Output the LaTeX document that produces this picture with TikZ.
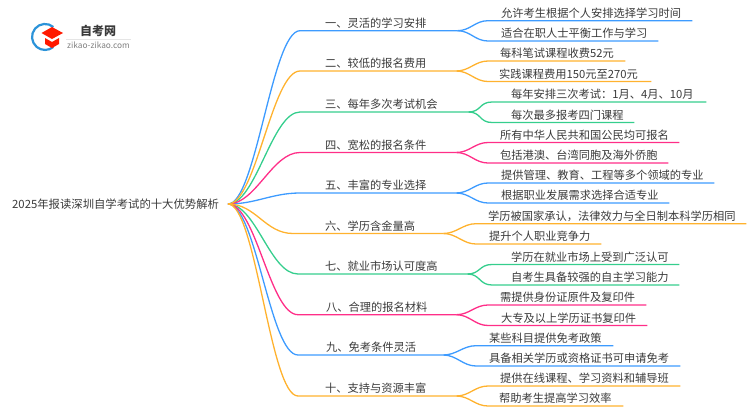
\documentclass[tikz,border=0pt]{standalone}
\usepackage{fontspec}
\setmainfont{Noto Sans CJK SC}
\definecolor{linkblue}{HTML}{3D9BFF}
\definecolor{linkorange}{HTML}{FFB22E}
\definecolor{linkgreen}{HTML}{35CE8D}
\definecolor{linkpink}{HTML}{FF2E88}
\definecolor{inktext}{HTML}{3A3A3A}
\tikzset{
  topic/.style={anchor=south west,align=left,inner xsep=0pt,inner ysep=0.8pt,text height=9.5pt,text depth=2.5pt,text=inktext,font=\fontsize{11.25}{13}\selectfont,execute at begin node={\leavevmode\hspace*{#1pt}}},
  rootlink/.style={out=0,in=180,distance=28pt},
  sublink/.style={out=0,in=180,distance=13pt},
  bluelink/.style={draw=linkblue,line width=1.3pt},
  orangelink/.style={draw=linkorange,line width=1.3pt},
  greenlink/.style={draw=linkgreen,line width=1.3pt},
  pinklink/.style={draw=linkpink,line width=1.3pt}
}
\begin{document}
\begin{tikzpicture}[x=1pt,y=-1pt]
  \useasboundingbox (0,0) rectangle (750,410);
  % logo
  \draw[line width=2.2pt,draw=linkblue!70!teal] (53.4,27) arc (-50:-310:13);
  \fill[red!80!orange] (52,27) -- (63,33) -- (52,39) -- (41.5,33) -- cycle;
  \fill[red!80!orange] (45,38) -- (52,42) -- (59,38) -- (59,44) -- (52,48) -- (45,44) -- cycle;
  \node[font=\fontsize{12}{13}\selectfont\bfseries,text=inktext,inner sep=0pt] (brand) at (98,30.5) {自考网};
  \node[font=\fontsize{8.3}{9}\selectfont,text=gray,inner sep=0pt] (site) at (98.5,45) {zikao-zikao.com};
  \draw[black!10,line width=0.5pt] (66,39) to (131,39);
  % root
  \node[text=inktext,font=\fontsize{11.35}{13}\selectfont,inner sep=0pt,anchor=west] (root) at (12,204.5) {2025年报读深圳自学考试的十大优势解析};
  \coordinate (start) at (228,204);
  % topics
  \node[topic=25,text width=157] (b1) at (300,30.7) {一、灵活的学习安排};
  \node[topic=13,text width=204] (c11) at (488,20.7) {允许考生根据个人安排选择学习时间};
  \node[topic=13,text width=170] (c12) at (488,41) {适合在职人士平衡工作与学习};
  \node[topic=25,text width=156] (b2) at (300,71) {二、较低的报名费用};
  \node[topic=12,text width=137] (c21) at (488,61) {每科笔试课程收费52元};
  \node[topic=11,text width=163] (c22) at (488,81.5) {实践课程费用150元至270元};
  \node[topic=25,text width=168] (b3) at (300,112) {三、每年多次考试机会};
  \node[topic=19,text width=214] (c31) at (492,102) {每年安排三次考试：1月、4月、10月};
  \node[topic=19,text width=142] (c32) at (492,122.5) {每次最多报考四门课程};
  \node[topic=25,text width=156] (b4) at (300,152.5) {四、宽松的报名条件};
  \node[topic=12,text width=191] (c41) at (488,142.5) {所有中华人民共和国公民均可报名};
  \node[topic=12,text width=180] (c42) at (488,163) {包括港澳、台湾同胞及海外侨胞};
  \node[topic=25,text width=156] (b5) at (300,193) {五、丰富的专业选择};
  \node[topic=13,text width=226] (c51) at (488,183) {提供管理、教育、工程等多个领域的专业};
  \node[topic=13,text width=181] (c52) at (488,203) {根据职业发展需求选择合适专业};
  \node[topic=32,text width=150] (b6) at (293,233.5) {六、学历含金量高};
  \node[topic=12,text width=270] (c61) at (476,223.7) {学历被国家承认，法律效力与全日制本科学历相同};
  \node[topic=13,text width=125] (c62) at (476,244) {提升个人职业竞争力};
  \node[topic=27,text width=169] (b7) at (298,274) {七、就业市场认可度高};
  \node[topic=19,text width=187] (c71) at (492,264.5) {学历在就业市场上受到广泛认可};
  \node[topic=19,text width=187] (c72) at (492,285) {自考生具备较强的自主学习能力};
  \node[topic=28,text width=158] (b8) at (298,314.7) {八、合理的报名材料};
  \node[topic=12,text width=158] (c81) at (488,305) {需提供身份证原件及复印件};
  \node[topic=13,text width=159] (c82) at (488,325.5) {大专及以上学历证书复印件};
  \node[topic=28,text width=145] (b9) at (298,355) {九、免考条件灵活};
  \node[topic=13,text width=137] (c91) at (476,345.7) {某些科目提供免考政策};
  \node[topic=13,text width=204] (c92) at (476,366) {具备相关学历或资格证书可申请免考};
  \node[topic=27,text width=158] (b10) at (298,396) {十、支持与资源丰富};
  \node[topic=12,text width=192] (c101) at (488,386) {提供在线课程、学习资料和辅导班};
  \node[topic=11,text width=135] (c102) at (488,406) {帮助考生提高学习效率};
  % links
  \begin{scope}[bluelink]
    \draw (start) to[rootlink] (b1.south west) -- (b1.south east);
    \draw (b1.south east) to[sublink] (c11.south west) -- (c11.south east);
    \draw (b1.south east) to[sublink] (c12.south west) -- (c12.south east);
    \draw (start) to[rootlink] (b5.south west) -- (b5.south east);
    \draw (b5.south east) to[sublink] (c51.south west) -- (c51.south east);
    \draw (b5.south east) to[sublink] (c52.south west) -- (c52.south east);
    \draw (start) to[rootlink] (b9.south west) -- (b9.south east);
    \draw (b9.south east) to[sublink] (c91.south west) -- (c91.south east);
    \draw (b9.south east) to[sublink] (c92.south west) -- (c92.south east);
  \end{scope}
  \begin{scope}[greenlink]
    \draw (start) to[rootlink] (b3.south west) -- (b3.south east);
    \draw (b3.south east) to[sublink] (c31.south west) -- (c31.south east);
    \draw (b3.south east) to[sublink] (c32.south west) -- (c32.south east);
    \draw (start) to[rootlink] (b7.south west) -- (b7.south east);
    \draw (b7.south east) to[sublink] (c71.south west) -- (c71.south east);
    \draw (b7.south east) to[sublink] (c72.south west) -- (c72.south east);
  \end{scope}
  \begin{scope}[pinklink]
    \draw (start) to[rootlink] (b4.south west) -- (b4.south east);
    \draw (b4.south east) to[sublink] (c41.south west) -- (c41.south east);
    \draw (b4.south east) to[sublink] (c42.south west) -- (c42.south east);
    \draw (start) to[rootlink] (b8.south west) -- (b8.south east);
    \draw (b8.south east) to[sublink] (c81.south west) -- (c81.south east);
    \draw (b8.south east) to[sublink] (c82.south west) -- (c82.south east);
  \end{scope}
  \begin{scope}[orangelink]
    \draw (start) to[rootlink] (b2.south west) -- (b2.south east);
    \draw (b2.south east) to[sublink] (c21.south west) -- (c21.south east);
    \draw (b2.south east) to[sublink] (c22.south west) -- (c22.south east);
    \draw (start) to[rootlink] (b6.south west) -- (b6.south east);
    \draw (b6.south east) to[sublink] (c61.south west) -- (c61.south east);
    \draw (b6.south east) to[sublink] (c62.south west) -- (c62.south east);
    \draw (start) to[rootlink] (b10.south west) -- (b10.south east);
    \draw (b10.south east) to[sublink] (c101.south west) -- (c101.south east);
    \draw (b10.south east) to[sublink] (c102.south west) -- (c102.south east);
  \end{scope}
\end{tikzpicture}
\end{document}
